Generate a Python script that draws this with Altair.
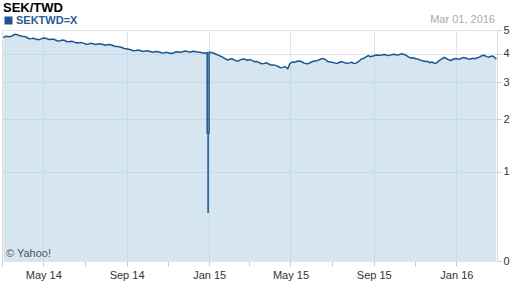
import altair as alt
import pandas as pd

# Weekly SEK/TWD closes (Mondays)
week_dates = [d.strftime("%Y-%m-%d") for d in pd.date_range("2014-03-03", "2016-02-29", freq="7D")]
weekly_values = [
    4.65, 4.70, 4.75, 4.78, 4.72, 4.66, 4.62, 4.58, 4.60, 4.63,
    4.57, 4.55, 4.52, 4.53, 4.49, 4.46, 4.44, 4.41, 4.38, 4.39,
    4.38, 4.36, 4.35, 4.33, 4.28, 4.24, 4.19, 4.14, 4.12, 4.11,
    4.10, 4.08, 4.07, 4.05, 4.03, 4.02, 4.03, 4.06, 4.08, 4.07,
    4.09, 4.06, 4.03, 4.03, 4.03, 3.96, 3.88, 3.78, 3.80, 3.73,
    3.76, 3.78, 3.77, 3.69, 3.66, 3.63, 3.61, 3.57, 3.52, 3.49,
    3.44, 3.68, 3.71, 3.69, 3.62, 3.68, 3.73, 3.79, 3.77, 3.68,
    3.64, 3.68, 3.66, 3.65, 3.63, 3.70, 3.82, 3.92, 3.90, 3.94,
    3.95, 3.93, 3.96, 3.94, 3.99, 3.93, 3.83, 3.80, 3.75, 3.70,
    3.66, 3.63, 3.74, 3.85, 3.76, 3.79, 3.78, 3.85, 3.80, 3.82,
    3.84, 3.92, 3.88, 3.90, 3.79,
]

# Mid-week (Thursday) closes
mid_dates = [d.strftime("%Y-%m-%d") for d in pd.date_range("2014-03-06", "2016-02-25", freq="7D")]
mid_values = [
    4.71, 4.69, 4.80, 4.74, 4.71, 4.61, 4.63, 4.56, 4.64, 4.58,
    4.59, 4.51, 4.55, 4.48, 4.50, 4.43, 4.45, 4.37, 4.41, 4.36,
    4.39, 4.33, 4.36, 4.29, 4.27, 4.20, 4.17, 4.11, 4.14, 4.08,
    4.11, 4.05, 4.08, 4.02, 4.05, 4.00, 4.07, 4.05, 4.10, 4.05,
    4.08, 4.05, 4.01, 4.05, 4.01, 3.93, 3.84, 3.76, 3.78, 3.71,
    3.79, 3.74, 3.74, 3.70, 3.62, 3.65, 3.57, 3.56, 3.48, 3.52,
    3.62, 3.67, 3.72, 3.64, 3.63, 3.71, 3.75, 3.81, 3.70, 3.67,
    3.63, 3.69, 3.63, 3.67, 3.64, 3.78, 3.86, 3.88, 3.93, 3.92,
    3.96, 3.92, 3.97, 3.95, 3.97, 3.87, 3.84, 3.79, 3.73, 3.71,
    3.68, 3.65, 3.79, 3.81, 3.74, 3.81, 3.80, 3.83, 3.78, 3.80,
    3.86, 3.93, 3.86, 3.89,
]

# Bad-data spike around the turn of the year
spike_dates = ["2014-12-29T00:00", "2014-12-29T00:00", "2014-12-30T09:00", "2014-12-30T09:00",
               "2014-12-30T09:00", "2014-12-31T18:00", "2014-12-31T18:00"]
spike_values = [4.03, 1.70, 1.70, 0.45, 1.70, 1.70, 4.03]

series_name = "SEKTWD=X"
y_ticks = [0, 1, 2, 3, 4, 5]
month_ticks = [alt.DateTime(year=y, month=m, date=1)
               for (y, m) in [(2014, mm) for mm in range(3, 13)] + [(2015, mm) for mm in range(1, 13)] + [(2016, 1), (2016, 2)]]

base_pts = sorted(zip(week_dates + mid_dates, weekly_values + mid_values), key=lambda p: p[0])
line_pts = sorted(base_pts + list(zip(spike_dates, spike_values)), key=lambda p: p[0])
line_df = pd.DataFrame({"date": [p[0] for p in line_pts], "value": [p[1] for p in line_pts],
                        "idx": list(range(len(line_pts))), "series": series_name})
area_df = pd.DataFrame({"date": [p[0] for p in base_pts], "value": [p[1] for p in base_pts]})

FONT = "Liberation Sans"
xscale = alt.Scale(domain=[alt.DateTime(year=2014, month=3, date=1), alt.DateTime(year=2016, month=3, date=1)])
yscale = alt.Scale(type="symlog", constant=1, domain=[0, 5])

x_axis = alt.Axis(
    values=month_ticks, title=None, domain=False, tickSize=5, tickColor="#cccccc",
    labelExpr="month(datum.value) % 4 == 0 ? timeFormat(datum.value, '%b %y') : ''",
    labelFont=FONT, labelFontSize=11, labelColor="#333333", labelPadding=3,
    gridColor="#dfe5ec",
    gridOpacity={"condition": {"test": "month(datum.value) % 4 != 0", "value": 0}, "value": 1},
)
y_axis = alt.Axis(
    orient="right", values=y_ticks, title=None, domain=False, tickSize=4, tickColor="#cccccc",
    labelFont=FONT, labelFontSize=11, labelColor="#333333", labelPadding=2, gridColor="#dfe5ec",
)

area = alt.Chart(area_df).mark_area(color="#adcde1", opacity=0.5).encode(
    x=alt.X("date:T", scale=xscale, axis=x_axis),
    y=alt.Y("value:Q", scale=yscale, axis=y_axis),
)

line = alt.Chart(line_df).mark_line(strokeWidth=1.5).encode(
    x=alt.X("date:T", scale=xscale),
    y=alt.Y("value:Q", scale=yscale),
    order=alt.Order("idx:Q"),
    color=alt.Color("series:N", scale=alt.Scale(range=["#1c5592"]),
                    legend=alt.Legend(orient="none", legendX=1, legendY=-15, title=None,
                                      symbolType="square", symbolSize=64, symbolFillColor="#1c5592",
                                      symbolStrokeWidth=0, labelFont=FONT, labelFontSize=11,
                                      labelFontWeight="bold", labelColor="#2a5b94", padding=0,
                                      labelOffset=2)),
)

title_df = pd.DataFrame({"t": ["SEK/TWD"]})
date_df = pd.DataFrame({"t": ["Mar 01, 2016"]})
credit_df = pd.DataFrame({"t": ["© Yahoo!"]})

title = alt.Chart(title_df).mark_text(align="left", baseline="alphabetic", font=FONT, fontSize=13,
                                      fontWeight="bold", color="#000000").encode(
    x=alt.value(1), y=alt.value(-18), text="t:N")
date_txt = alt.Chart(date_df).mark_text(align="right", baseline="alphabetic", font=FONT, fontSize=11,
                                        color="#aaaaaa").encode(
    x=alt.value(493), y=alt.value(-7), text="t:N")
credit = alt.Chart(credit_df).mark_text(align="left", baseline="alphabetic", font=FONT, fontSize=11,
                                        color="#555555").encode(
    x=alt.value(4), y=alt.value(227), text="t:N")

chart = alt.layer(area, line, title, date_txt, credit).properties(
    width=495, height=231,
    autosize=alt.AutoSizeParams(type="none"),
    padding={"left": 2, "top": 30, "right": 15, "bottom": 27},
).configure_view(stroke="#dddddd", strokeWidth=1)

chart.save("out.html", embed_options={"renderer": "svg", "actions": False})
